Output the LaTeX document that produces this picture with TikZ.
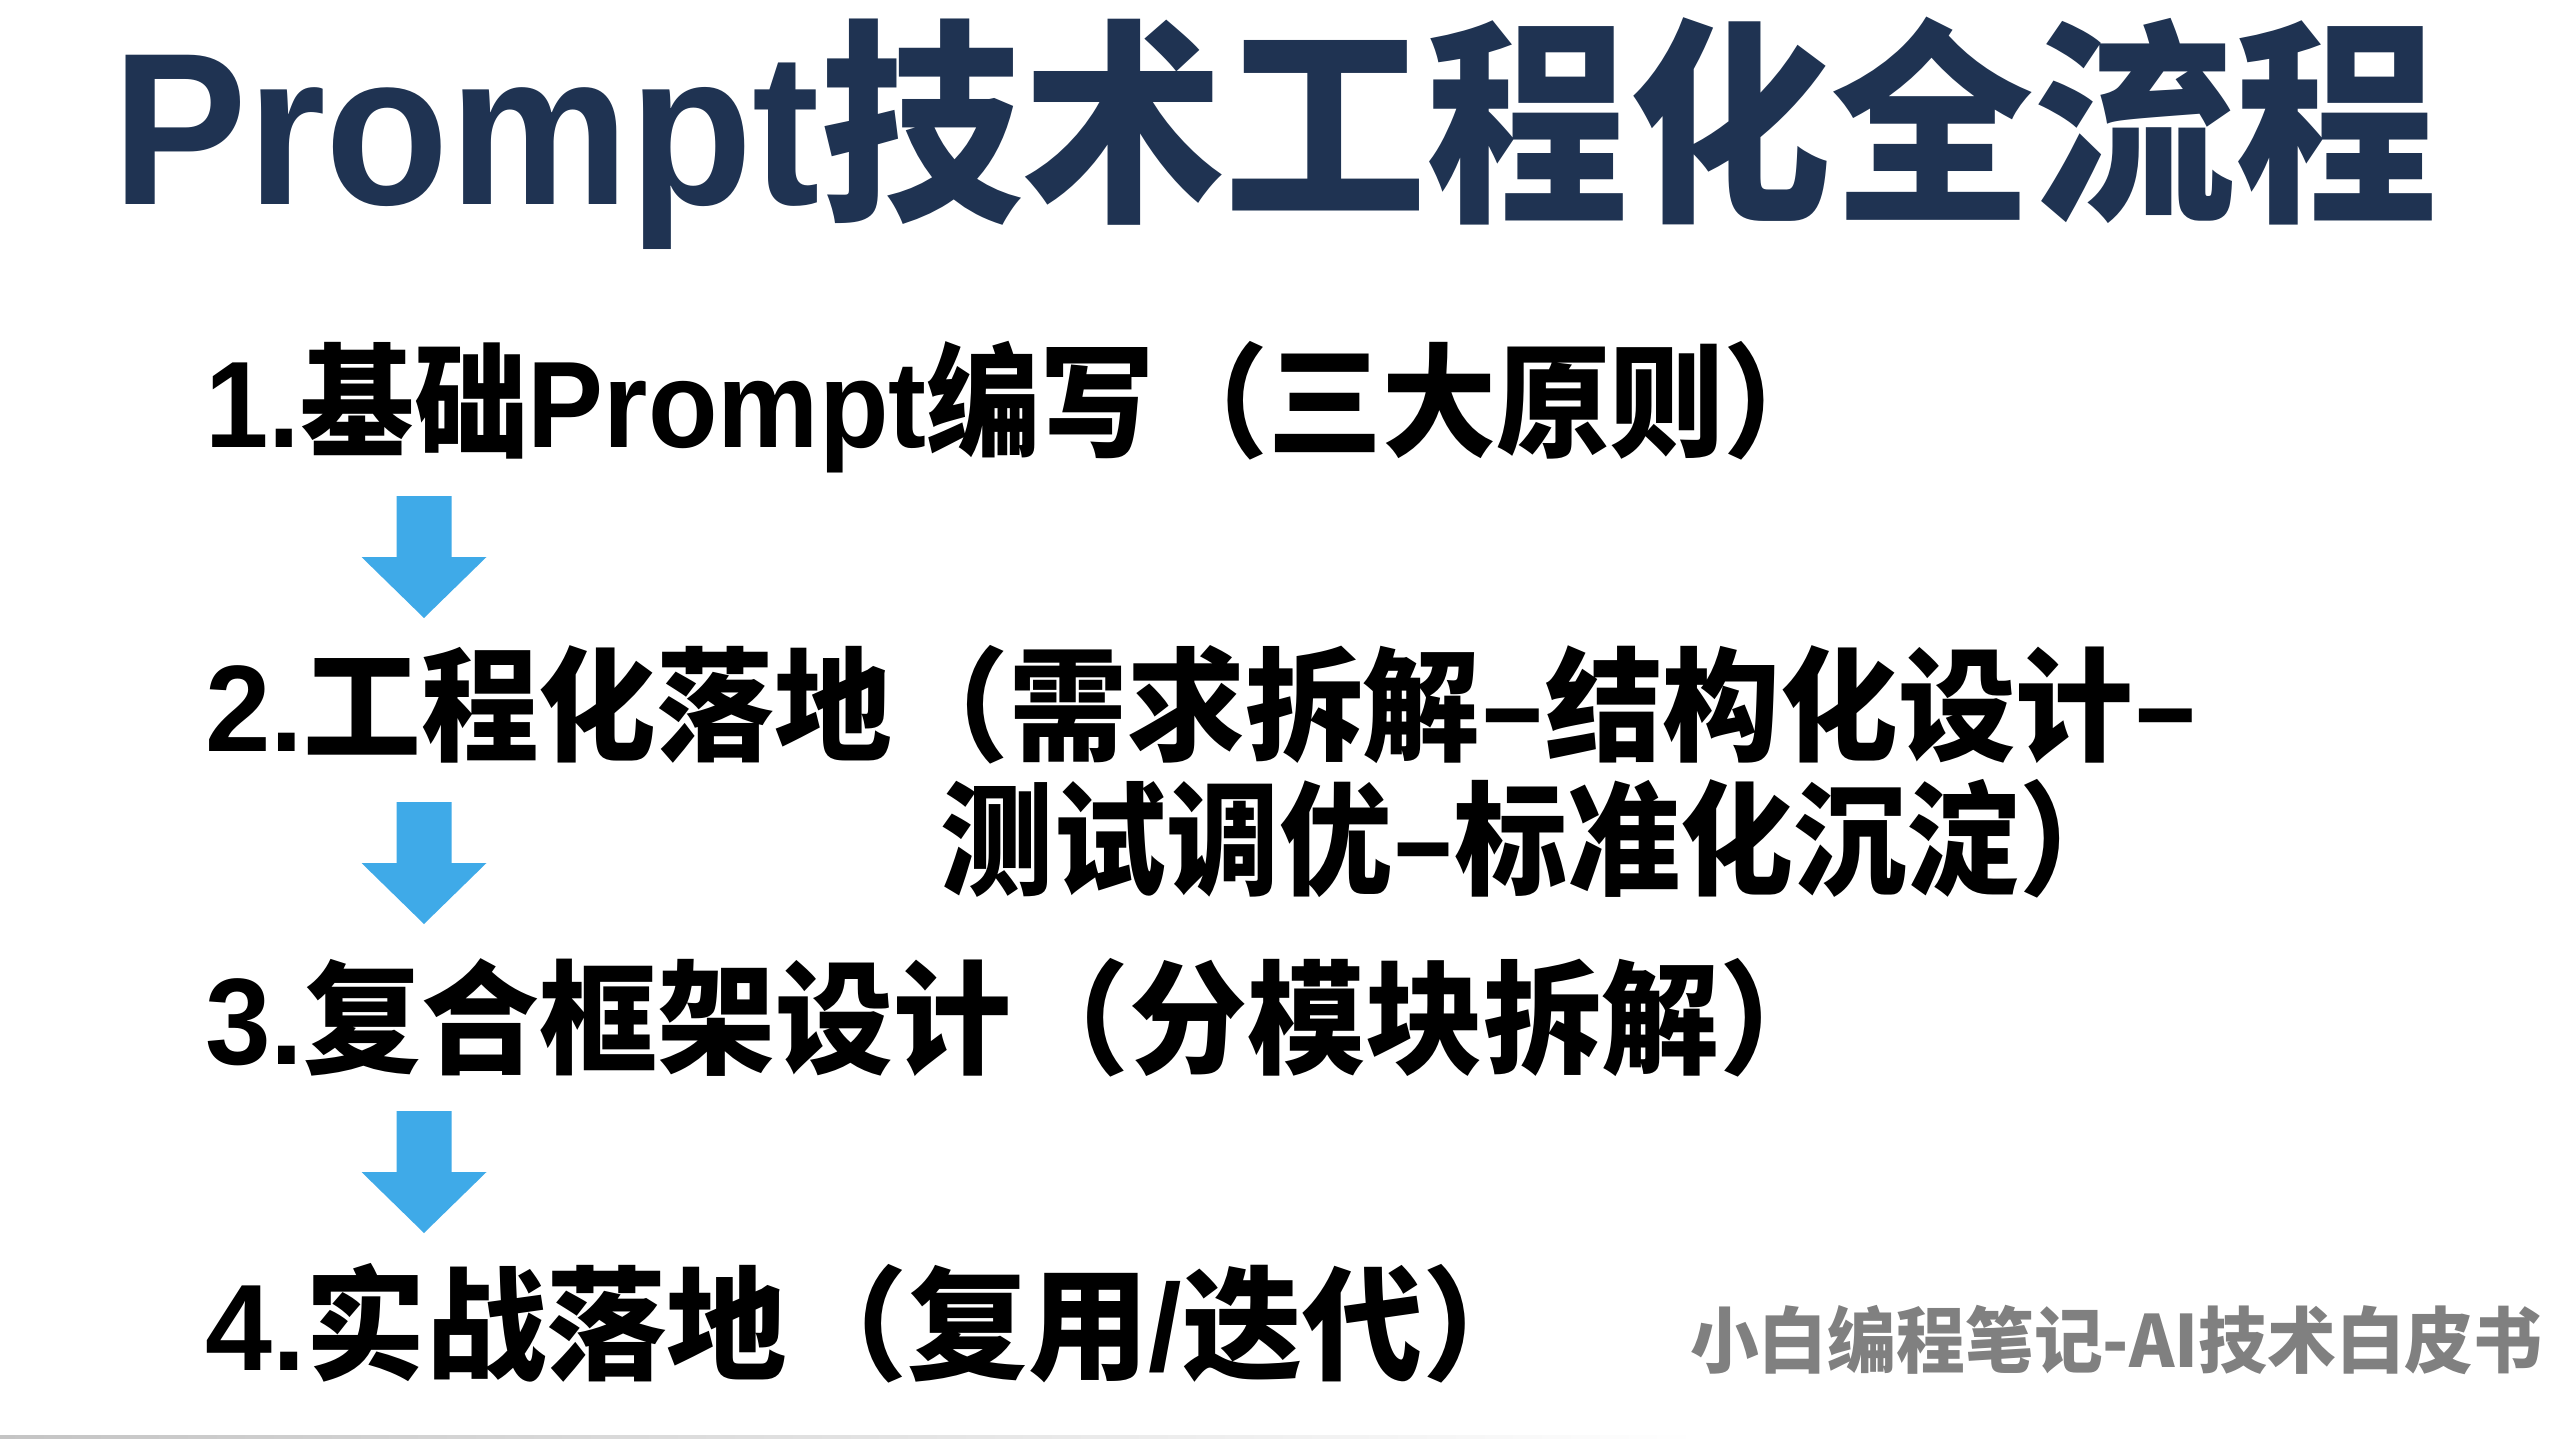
\documentclass[tikz,border=0pt]{standalone}
\usepackage{fontspec}
\usepackage{graphicx}
\newfontfamily\cjk{Noto Sans CJK SC}
\newfontfamily\lat{Liberation Sans}
\definecolor{titleblue}{HTML}{1F3352}
\definecolor{arrowblue}{HTML}{3FAAE8}
\definecolor{wmgray}{HTML}{808080}
\definecolor{rulegray}{HTML}{C4C4C4}
\newcommand\blockarrowat[3]{%
  \fill[arrowblue] (#2-27.5,#3) -- (#2+27.5,#3) -- (#2+27.5,#3+61) -- (#2+62.5,#3+61)
    -- (#2,#3+122) coordinate (#1) -- (#2-62.5,#3+61) -- (#2-27.5,#3+61) -- cycle;}
\newcommand\latb[1]{{\lat\bfseries #1}}
\begin{document}
\begin{tikzpicture}[x=1pt,y=-1pt,
  titletext/.style={anchor=base west, inner sep=0pt, text=titleblue, font=\cjk\bfseries\fontsize{217}{217}\selectfont},
  itemtext/.style={anchor=base west, inner sep=0pt, text=black, font=\cjk\bfseries\fontsize{123}{123}\selectfont},
  wmtext/.style={anchor=base west, inner sep=0pt, text=wmgray, font=\cjk\bfseries\fontsize{72}{72}\selectfont}]
\useasboundingbox (0,0) rectangle (2560,1439);
\fill[white] (0,0) rectangle (2560,1439);
\node[titletext] (title) at (112,205) {\scalebox{0.932}[1]{\latb{Prompt}技术工程化全流程}};
\node[itemtext] (s1) at (205,447) {\scalebox{0.926}[1]{\latb{1.}基础\latb{Prompt}编写（三大原则）}};
\node[itemtext] (s2) at (205,751) {\scalebox{0.957}[1]{\latb{2.}工程化落地（需求拆解–结构化设计–}};
\node[itemtext] (s2b) at (940,885) {\scalebox{0.919}[1]{测试调优–标准化沉淀）}};
\node[itemtext] (s3) at (205,1064) {\scalebox{0.959}[1]{\latb{3.}复合框架设计（分模块拆解）}};
\node[itemtext] (s4) at (205,1370) {\scalebox{0.979}[1]{\latb{4.}实战落地（复用\latb{/}迭代）}};
\node[wmtext] (wm) at (1690,1367) {\scalebox{0.955}[1]{小白编程笔记-AI技术白皮书}};
\blockarrowat{a1}{424}{496}
\blockarrowat{a2}{424}{802}
\blockarrowat{a3}{424}{1111}
\shade[left color=rulegray, right color=white] (0,1435) rectangle (1700,1439);
\end{tikzpicture}
\end{document}
